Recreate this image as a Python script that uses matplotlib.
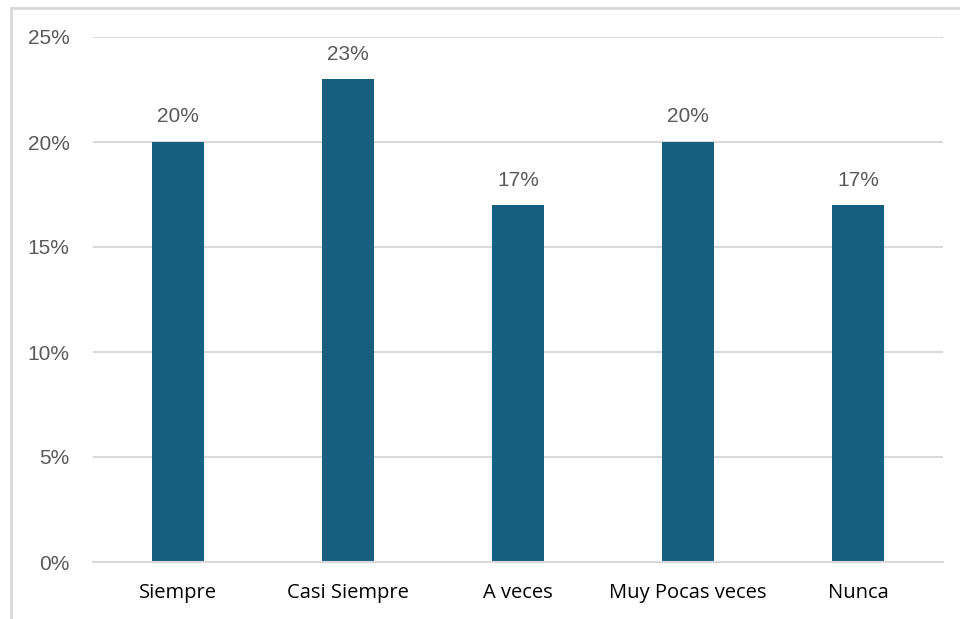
import matplotlib
matplotlib.use("Agg")
import matplotlib.pyplot as plt
from matplotlib.patches import Rectangle
from matplotlib.ticker import PercentFormatter

# ----------------------------
# Data
# ----------------------------
categories = ["Siempre", "Casi Siempre", "A veces", "Muy Pocas veces", "Nunca"]
percentages = [20, 23, 17, 20, 17]
y_ticks = [0, 5, 10, 15, 20, 25]

BAR_COLOR = "#175F80"
GRID_COLOR = "#D9D9D9"
TEXT_GRAY = "#595959"

fig = plt.figure(figsize=(9.6, 6.19), dpi=100)
ax = fig.add_axes([93 / 960, 1 - 562 / 619, 850 / 960, 525 / 619])

positions = range(len(categories))
bars = ax.bar(positions, percentages, width=0.31, color=BAR_COLOR, zorder=3)

ax.set_xlim(-0.5, len(categories) - 0.5)
ax.set_ylim(0, 25)
ax.set_yticks(y_ticks)
ax.yaxis.set_major_formatter(PercentFormatter(decimals=0))
ax.grid(axis="y", color=GRID_COLOR, linewidth=1.5, zorder=0)

for side in ["top", "right", "left"]:
    ax.spines[side].set_visible(False)
ax.spines["bottom"].set_color(GRID_COLOR)
ax.spines["bottom"].set_linewidth(1.5)
ax.spines["bottom"].set_zorder(4)

ax.set_xticks(list(positions))
ax.set_xticklabels(categories, fontsize=14.5, family="Open Sans", color="black")
ax.tick_params(axis="x", length=0, pad=15)
ax.tick_params(axis="y", length=0, pad=17, labelsize=15, labelcolor=TEXT_GRAY)
for label in ax.get_yticklabels():
    label.set_family("Liberation Sans")

for bar, value in zip(bars, percentages):
    ax.annotate(f"{value}%", (bar.get_x() + bar.get_width() / 2, value),
                xytext=(0, 18), textcoords="offset points",
                ha="center", va="center", fontsize=15,
                family="Liberation Sans", color=TEXT_GRAY)

# light frame around the chart area (cut off at right and bottom)
fig.patches.append(Rectangle((11 / 960, -0.1), 1.2, 1.1 - 8 / 619,
                             transform=fig.transFigure, fill=False,
                             edgecolor=GRID_COLOR, linewidth=2))

fig.savefig("out.png", dpi=100)
